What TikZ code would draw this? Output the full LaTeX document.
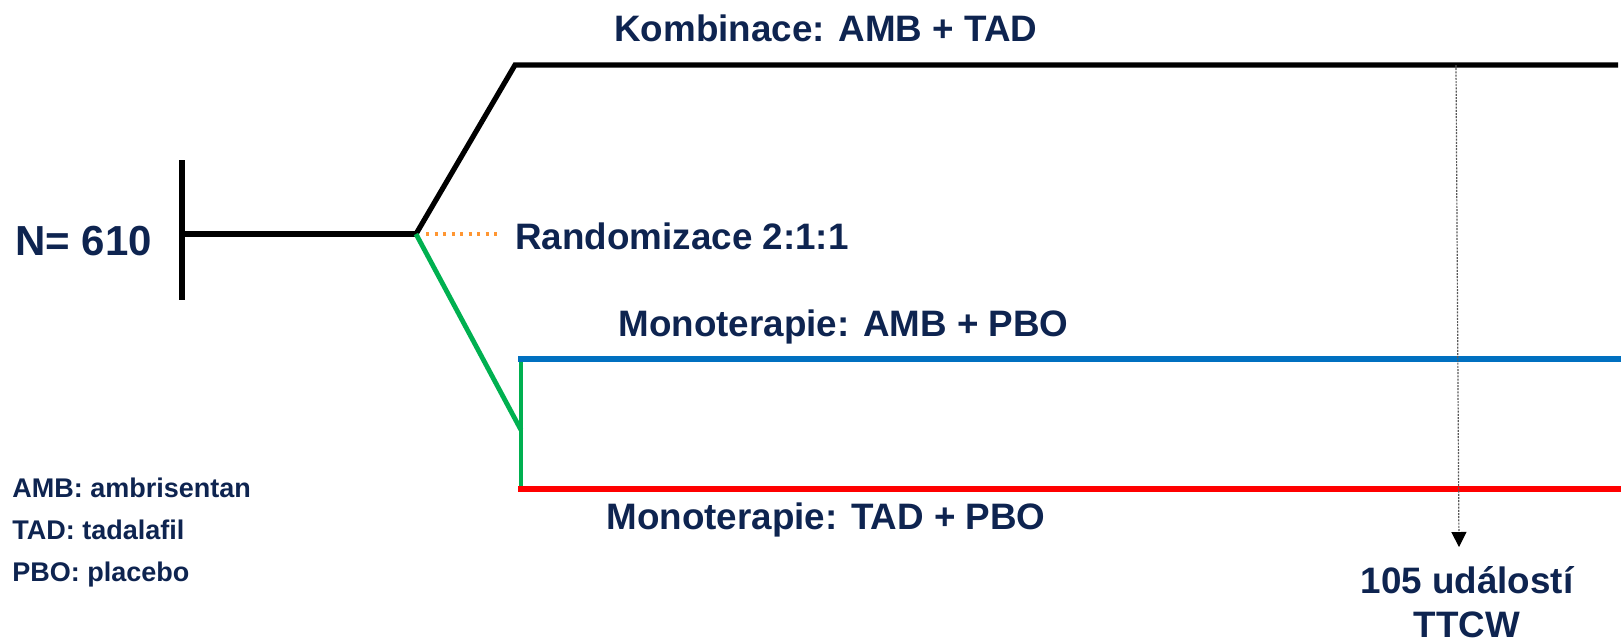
\documentclass[tikz,border=0pt]{standalone}
\usepackage{fontspec}
\setmainfont{Liberation Sans}
\usetikzlibrary{arrows.meta}
\definecolor{navy}{RGB}{14,36,80}
\definecolor{armblue}{RGB}{0,112,192}
\definecolor{armred}{RGB}{255,0,0}
\definecolor{armgreen}{RGB}{0,176,80}
\definecolor{randorange}{RGB}{255,150,50}
\tikzset{
  lbl/.style={inner sep=0pt, text=navy, font=\fontsize{18.4}{22}\selectfont\bfseries},
  legend/.style={inner sep=0pt, text=navy, font=\fontsize{13.5}{16}\selectfont\bfseries, anchor=base west},
  trunk/.style={line width=2.6pt},
  arm/.style={line width=2.6pt, line cap=rect},
}
\begin{document}
\begin{tikzpicture}[x=0.5pt, y=-0.5pt]
\useasboundingbox (0,0) rectangle (1624,639);
% junction points
\coordinate (tickT) at (182,160);
\coordinate (tickB) at (182,300);
\coordinate (start) at (182,234);
\coordinate (split) at (416,234);
\coordinate (combA) at (515,65);
\coordinate (combB) at (1618,65);
\coordinate (elbow) at (521,430);
\coordinate (monoA) at (521,359);
\coordinate (monoAE) at (1618,359);
\coordinate (monoB) at (521,489);
\coordinate (monoBE) at (1618,489);
\coordinate (randS) at (426,234);
\coordinate (randE) at (499,234);
\coordinate (evT) at (1456,65);
\coordinate (evB) at (1459,547);

% population and randomisation
\draw[trunk] (tickT) -- (tickB);
\draw[trunk] (start) -- (split);
\draw[trunk, line join=miter] (split) -- (combA) -- (combB);
\draw[randorange, line width=1.6pt, dash pattern=on 1.5pt off 2.75pt] (randS) -- (randE);
\draw[armgreen, line width=2.4pt, line join=miter] (split) -- (elbow);
\draw[armgreen, line width=2.4pt] (monoA) -- (monoB);
\draw[armblue, arm] (monoA) -- (monoAE);
\draw[armred, arm] (monoB) -- (monoBE);

% endpoint marker
\draw[gray!70!black, line width=0.6pt, dash pattern=on 1pt off 0.6pt,
      -{Triangle[length=7.5pt,width=7.5pt,fill=black,color=black]}] (evT) -- (evB);

% labels
\node[lbl, anchor=base west, font=\fontsize{21}{25}\selectfont\bfseries] (n) at (15,255) {N= 610};
\node[lbl, anchor=base west] (komb) at (614,41) {Kombinace: AMB + TAD};
\node[lbl, anchor=base west] (rand) at (515,249) {Randomizace 2:1:1};
\node[lbl, anchor=base west] (mono1) at (618,336) {Monoterapie: AMB + PBO};
\node[lbl, anchor=base west] (mono2) at (606,529) {Monoterapie: TAD + PBO};
\node[lbl, anchor=base] (ev) at (1467,593) {105 událostí};
\node[lbl, anchor=base] (ttcw) at (1467,637) {TTCW};

% legend
\node[legend] (l1) at (12,497) {AMB: ambrisentan};
\node[legend] (l2) at (12,539) {TAD: tadalafil};
\node[legend] (l3) at (12,581) {PBO: placebo};
\end{tikzpicture}
\end{document}
